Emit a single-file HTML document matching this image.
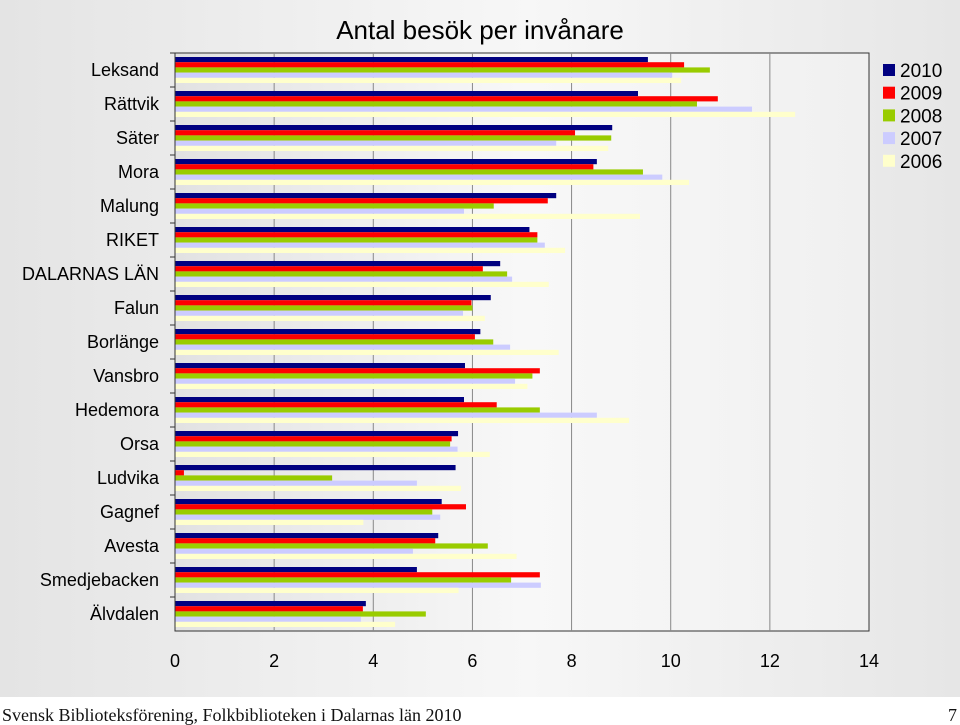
<!DOCTYPE html>
<html><head><meta charset="utf-8">
<style>
html,body{margin:0;padding:0;background:#fff;}
svg{display:block;font-family:"Liberation Sans",Arial,sans-serif;}
</style></head>
<body>
<svg id="chart" width="960" height="725" viewBox="0 0 960 725" xmlns="http://www.w3.org/2000/svg">
<defs>
<linearGradient id="bg" x1="0" x2="1" y1="0" y2="0">
<stop offset="0" stop-color="#e4e4e4"/><stop offset="0.55" stop-color="#f7f7f7"/><stop offset="1" stop-color="#e6e6e6"/>
</linearGradient>
<linearGradient id="pbg" x1="0" x2="1" y1="0" y2="0">
<stop offset="0" stop-color="#e2e2e2"/><stop offset="0.5" stop-color="#f8f8f8"/><stop offset="1" stop-color="#f0f0f0"/>
</linearGradient>
</defs>
<rect x="0" y="0" width="960" height="697" fill="url(#bg)"/>
<rect x="175" y="53" width="694" height="578" fill="url(#pbg)" stroke="#333" stroke-width="1"/>
<g id="grid"></g>
<g id="bars"></g>
<g id="cats"></g>
<g id="xticks"></g>
<text x="480" y="39" font-size="26" text-anchor="middle" fill="#000">Antal besök per invånare</text>
<g id="legend"></g>
<text x="2" y="721" font-family="'Liberation Serif',serif" font-size="18" fill="#111">Svensk Biblioteksförening, Folkbiblioteken i Dalarnas län 2010</text>
<text x="957" y="721" font-family="'Liberation Serif',serif" font-size="18" text-anchor="end" fill="#111">7</text>
</svg>
<script>
const categories = ["Leksand","Rättvik","Säter","Mora","Malung","RIKET","DALARNAS LÄN","Falun","Borlänge","Vansbro","Hedemora","Orsa","Ludvika","Gagnef","Avesta","Smedjebacken","Älvdalen"];
const years = ["2010","2009","2008","2007","2006"];
const v2010 = [9.54,9.34,8.82,8.51,7.69,7.15,6.56,6.37,6.16,5.85,5.83,5.71,5.66,5.38,5.31,4.88,3.85];
const v2009 = [10.27,10.95,8.07,8.44,7.52,7.31,6.21,5.98,6.05,7.36,6.49,5.58,0.18,5.87,5.25,7.36,3.79];
const v2008 = [10.79,10.53,8.80,9.44,6.43,7.31,6.70,6.00,6.42,7.21,7.36,5.55,3.17,5.19,6.31,6.78,5.06];
const v2007 = [10.03,11.64,7.69,9.83,5.83,7.46,6.80,5.81,6.76,6.86,8.51,5.70,4.88,5.35,4.80,7.38,3.75];
const v2006 = [10.21,12.51,8.74,10.37,9.38,7.87,7.54,6.25,7.74,7.11,9.16,6.35,5.77,3.80,6.89,5.72,4.44];
const xTicks = [0,2,4,6,8,10,12,14];
const series = [v2010,v2009,v2008,v2007,v2006];
const colors = ["#000080","#ff0000","#99cc00","#ccccff","#ffffcc"];
const NS="http://www.w3.org/2000/svg";
const X0=175,X1=869,Y0=53,Y1=631,XMAX=14;
const rowH=(Y1-Y0)/categories.length, barH=5.2;
const xs=v=>X0+v/XMAX*(X1-X0);
const mk=(p,t,a)=>{const e=document.createElementNS(NS,t);for(const k in a)e.setAttribute(k,a[k]);document.getElementById(p).appendChild(e);return e;};
xTicks.forEach((t,i)=>{
  if(i>0&&i<xTicks.length-1){
    const g=mk("grid","line",{x1:xs(t),x2:xs(t),y1:Y0,y2:Y1,stroke:"#888","stroke-width":1});
    
    
  }
  const l=mk("xticks","text",{x:xs(t),y:667,"font-size":18,"text-anchor":"middle",fill:"#000"});
  l.textContent=t;
  
  
});
categories.forEach((c,i)=>{
  const top=Y0+i*rowH;
  const tk=mk("cats","line",{x1:170,x2:175,y1:top,y2:top,stroke:"#333"});
  
  
  const l=mk("cats","text",{x:159,y:top+rowH/2+6,"font-size":18,"text-anchor":"end",fill:"#000"});
  l.textContent=c;
  
  
  series.forEach((s,j)=>{
    const r=mk("bars","rect",{x:X0,y:top+4+j*barH,width:Math.max(0,xs(s[i])-X0),height:barH,fill:colors[j]});
    
    
  });
});
mk("cats","line",{x1:175,x2:175,y1:Y0,y2:Y1,stroke:"#333"});
years.forEach((y,j)=>{
  const r=mk("legend","rect",{x:883,y:64+j*22.7,width:12,height:12,fill:colors[j]});
  
  
  const t=mk("legend","text",{x:900,y:77+j*22.7,"font-size":19,fill:"#000"});
  t.textContent=y;
  
  
});
</script>
</body></html>
